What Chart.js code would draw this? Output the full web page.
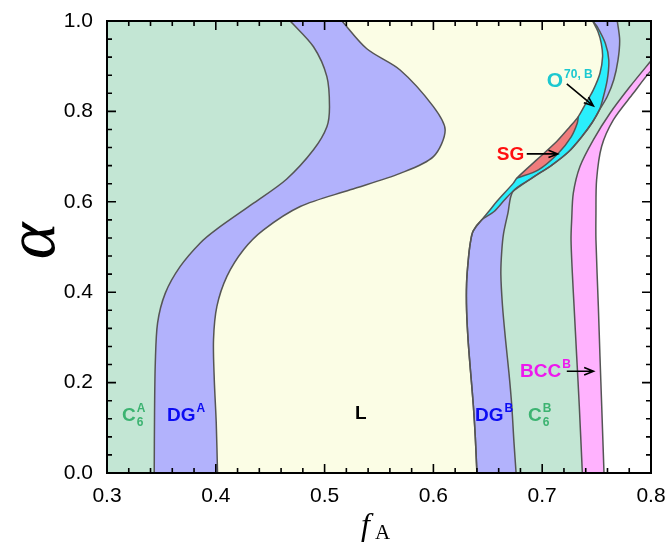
<!DOCTYPE html>
<html>
<head>
<meta charset="utf-8">
<script src="https://cdn.jsdelivr.net/npm/chart.js@4.4.1/dist/chart.umd.min.js"></script>
<style>
  html, body { margin: 0; padding: 0; background: #fff; }
  canvas { display: block; }
</style>
</head>
<body>
<canvas id="phase" width="667" height="543"></canvas>
<script>
// phase boundaries, points are [fA, alpha], alpha increasing
const c6aDga = [[0.3434, 0], [0.3437, 0.133], [0.3444, 0.2435], [0.3465, 0.332], [0.3536, 0.398],
  [0.3673, 0.457], [0.3857, 0.509], [0.400, 0.538], [0.4347, 0.597], [0.465, 0.65], [0.4898, 0.715],
  [0.5021, 0.766], [0.5045, 0.81], [0.5021, 0.877], [0.4898, 0.943], [0.4684, 1.0]];
const dgaL = [[0.4016, 0], [0.4004, 0.111], [0.3986, 0.2066], [0.3979, 0.295], [0.401, 0.3686],
  [0.4102, 0.435], [0.4255, 0.494], [0.4439, 0.538], [0.4776, 0.5896], [0.5235, 0.6265], [0.5694, 0.663],
  [0.600, 0.700], [0.6108, 0.759], [0.600, 0.8106], [0.5694, 0.8917], [0.5388, 0.9385], [0.5159, 1.0]];

// right-hand side, pieces joined below
const lDgb = [[0.640, 0], [0.6385, 0.08], [0.6367, 0.15], [0.6343, 0.22], [0.632, 0.29], [0.6305, 0.36],
  [0.6305, 0.42], [0.632, 0.47], [0.634, 0.51], [0.6365, 0.535], [0.6444, 0.56]];
const lO70Low = [[0.6444, 0.56], [0.651, 0.579], [0.6582, 0.6007], [0.6735, 0.6413], [0.6766, 0.6523]];
const lSg = [[0.6766, 0.6523], [0.6949, 0.6928], [0.7133, 0.7333], [0.7256, 0.7665], [0.7332, 0.7886]];
const lO70Up = [[0.7332, 0.7886], [0.7393, 0.8144], [0.747, 0.8475], [0.7531, 0.8843], [0.7555, 0.9212],
  [0.7543, 0.9506], [0.7513, 0.9764], [0.7464, 1.0]];
const o70DgbLow = [[0.6444, 0.56], [0.6555, 0.578], [0.6655, 0.6044], [0.673, 0.6228]];
const o70C6 = [[0.673, 0.6228], [0.6905, 0.6523], [0.7092, 0.6818], [0.7245, 0.7112], [0.7365, 0.7444],
  [0.7455, 0.7738], [0.7526, 0.8033]];
const o70DgbUp = [[0.7526, 0.8033], [0.7555, 0.8254], [0.7598, 0.8696], [0.7612, 0.9138], [0.758, 0.9506],
  [0.7505, 0.9875], [0.7464, 1.0]];
const sgO70 = [[0.6766, 0.6523], [0.6965, 0.6707], [0.7148, 0.7075], [0.7268, 0.7444], [0.7322, 0.7738],
  [0.7332, 0.7886]];
const dgbC6Low = [[0.676, 0], [0.674, 0.07], [0.672, 0.15], [0.6695, 0.22], [0.6665, 0.29], [0.6635, 0.37],
  [0.662, 0.44], [0.6628, 0.49], [0.6645, 0.53], [0.6685, 0.575], [0.673, 0.6228]];
const dgbC6Up = [[0.7526, 0.8033], [0.7598, 0.833], [0.7658, 0.87], [0.7697, 0.914], [0.7712, 0.958],
  [0.769, 1.0]];
const c6Bcc = [[0.7369, 0], [0.7341, 0.1476], [0.7317, 0.258], [0.7293, 0.3686], [0.7277, 0.4424],
  [0.7265, 0.516], [0.7271, 0.5602], [0.7286, 0.6192], [0.7347, 0.6781], [0.747, 0.737], [0.7623, 0.7959],
  [0.7807, 0.8549], [0.8, 0.912], [0.83, 1.0]];
const bccOut = [[0.7568, 0], [0.7547, 0.1476], [0.7531, 0.258], [0.7516, 0.3686], [0.7494, 0.516],
  [0.7494, 0.575], [0.75, 0.6486], [0.7546, 0.7223], [0.7654, 0.7812], [0.7837, 0.84], [0.8, 0.89],
  [0.845, 1.0]];

const fARange = [0.3, 0.8];
const alphaRange = [0, 1];

// phase names: anchor is [fA, alpha] of the left baseline
const phaseLabels = [
  { at: [0.3138, 0.114], text: 'C', sub: '6', sup: 'A', color: '#3cb371' },
  { at: [0.3551, 0.114], text: 'DG', sup: 'A', color: '#0c0cf2' },
  { at: [0.528, 0.12], text: 'L', color: '#000' },
  { at: [0.6383, 0.116], text: 'DG', sup: 'B', color: '#0c0cf2' },
  { at: [0.687, 0.116], text: 'C', sub: '6', sup: 'B', color: '#3cb371' },
  { at: [0.6797, 0.2133], text: 'BCC', sup: 'B', color: '#ee18ee' },
  { at: [0.6583, 0.6928], text: 'SG', color: '#ff1010' },
  { at: [0.7042, 0.8548], text: 'O', sup: '70, B', color: '#1cc8d0', size: 21 }
];
const arrows = [
  [[0.7226, 0.225], [0.7471, 0.225]],
  [[0.6858, 0.706], [0.7143, 0.706]],
  [[0.7226, 0.8608], [0.747, 0.8122]]
];

const join = (...parts) => parts.reduce((acc, p, i) => acc.concat(i ? p.slice(1) : p), []);
const lRight = join(lDgb, lO70Low, lSg, lO70Up);
const o70Right = join(lDgb, o70DgbLow, o70C6, o70DgbUp);
const c6bLeft = join(dgbC6Low, o70C6, dgbC6Up);

const GREEN = '#c3e6d4', PURPLE = '#b2b2fc', YELLOW = '#fbfde5', CYAN = '#2aeefc',
  RED = '#f07c7c', PINK = '#ffb2fe';
const SANS = '"Liberation Sans", Arial, sans-serif';
const SERIF = '"Liberation Serif", "Times New Roman", serif';

function boundary(pts, fill, color, order) {
  return {
    data: pts.map(([f, a]) => ({ x: f, y: a })),
    borderColor: '#555',
    borderWidth: 1.5,
    pointRadius: 0,
    tension: 0.3,
    capBezierPoints: false,
    fill: fill,
    backgroundColor: color,
    order: order === undefined ? 1 : order
  };
}

// keep the plot box fixed regardless of label overhang
function noOverhang(s) {
  s.paddingTop = 0; s.paddingBottom = 0; s.paddingLeft = 0; s.paddingRight = 0;
}

// inward ticks on all four sides plus the frame
const frameTicks = {
  id: 'frameTicks',
  afterDatasetsDraw(chart) {
    const { ctx, chartArea: a, scales: { x, y } } = chart;
    ctx.save();
    ctx.strokeStyle = '#000';
    ctx.lineWidth = 1.6;
    ctx.beginPath();
    for (let i = 0; i <= 25; i++) {
      const px = x.getPixelForValue(fARange[0] + i * 0.02);
      const len = i % 5 === 0 ? 9 : 5;
      ctx.moveTo(px, a.bottom); ctx.lineTo(px, a.bottom - len);
      ctx.moveTo(px, a.top); ctx.lineTo(px, a.top + len);
    }
    for (let i = 0; i <= 25; i++) {
      const py = y.getPixelForValue(alphaRange[0] + i * 0.04);
      const len = i % 5 === 0 ? 9 : 5;
      ctx.moveTo(a.left, py); ctx.lineTo(a.left + len, py);
      ctx.moveTo(a.right, py); ctx.lineTo(a.right - len, py);
    }
    ctx.stroke();
    ctx.lineWidth = 2;
    ctx.strokeRect(a.left, a.top, a.right - a.left, a.bottom - a.top);
    ctx.restore();
  }
};

// phase names, arrows and axis titles
const annotations = {
  id: 'annotations',
  afterDraw(chart) {
    const { ctx, chartArea: a, scales: { x, y } } = chart;
    ctx.save();
    ctx.textAlign = 'left';
    ctx.textBaseline = 'alphabetic';
    phaseLabels.forEach(lab => {
      const px = x.getPixelForValue(lab.at[0]);
      const py = y.getPixelForValue(lab.at[1]);
      ctx.fillStyle = lab.color;
      ctx.font = `bold ${lab.size || 19}px ${SANS}`;
      ctx.fillText(lab.text, px, py);
      const w = ctx.measureText(lab.text).width;
      ctx.font = `bold 12px ${SANS}`;
      if (lab.sup) ctx.fillText(lab.sup, px + w + 1, py - 9);
      if (lab.sub) ctx.fillText(lab.sub, px + w + 1, py + 5);
    });

    ctx.strokeStyle = '#000';
    ctx.lineWidth = 1.6;
    arrows.forEach(([p0, p1]) => {
      const x0 = x.getPixelForValue(p0[0]), y0 = y.getPixelForValue(p0[1]);
      const x1 = x.getPixelForValue(p1[0]), y1 = y.getPixelForValue(p1[1]);
      const ang = Math.atan2(y1 - y0, x1 - x0);
      ctx.beginPath();
      ctx.moveTo(x0, y0); ctx.lineTo(x1, y1);
      ctx.moveTo(x1 - 10 * Math.cos(ang - 0.38), y1 - 10 * Math.sin(ang - 0.38));
      ctx.lineTo(x1, y1);
      ctx.lineTo(x1 - 10 * Math.cos(ang + 0.38), y1 - 10 * Math.sin(ang + 0.38));
      ctx.stroke();
    });

    // x title: italic f with upright subscript A
    ctx.fillStyle = '#000';
    const cx = (a.left + a.right) / 2;
    ctx.font = `italic 32px ${SERIF}`;
    ctx.fillText('f', cx - 18, a.bottom + 62);
    ctx.font = `21px ${SERIF}`;
    ctx.fillText('A', cx - 4, a.bottom + 66);

    // y title
    ctx.translate(a.left - 71, (a.top + a.bottom) / 2 - 6);
    ctx.rotate(-Math.PI / 2);
    ctx.textAlign = 'center';
    ctx.textBaseline = 'middle';
    ctx.font = `italic 70px ${SERIF}`;
    ctx.fillText('\u03b1', 0, 0);
    ctx.restore();
  }
};

new Chart(document.getElementById('phase'), {
  type: 'line',
  data: {
    datasets: [
      boundary(c6aDga, { value: fARange[0] }, GREEN),
      boundary(dgaL, 0, PURPLE),
      boundary(lRight, 1, YELLOW),
      boundary(o70Right, 2, CYAN),
      boundary(c6bLeft, 3, PURPLE),
      boundary(c6Bcc, 4, GREEN),
      boundary(bccOut, 5, PINK),
      boundary(sgO70, 2, RED, 0)
    ]
  },
  options: {
    indexAxis: 'y',
    responsive: false,
    animation: false,
    events: [],
    layout: { padding: { top: 21, right: 16, left: 0, bottom: 0 } },
    plugins: {
      legend: { display: false },
      tooltip: { enabled: false },
      filler: { drawTime: 'beforeDatasetsDraw' }
    },
    scales: {
      x: {
        type: 'linear',
        position: 'bottom',
        min: fARange[0],
        max: fARange[1],
        grid: { display: false, drawTicks: false },
        border: { display: false },
        ticks: {
          stepSize: 0.1,
          autoSkip: false,
          maxRotation: 0,
          padding: 11,
          color: '#000',
          font: { family: SANS, size: 21 },
          callback: v => Number(v).toFixed(1)
        },
        afterFit: s => { s.height = 70; noOverhang(s); }
      },
      y: {
        type: 'linear',
        position: 'left',
        min: alphaRange[0],
        max: alphaRange[1],
        grid: { display: false, drawTicks: false },
        border: { display: false },
        ticks: {
          stepSize: 0.2,
          padding: 14,
          color: '#000',
          font: { family: SANS, size: 21 },
          callback: v => Number(v).toFixed(1)
        },
        afterFit: s => { s.width = 107; noOverhang(s); }
      }
    }
  },
  plugins: [frameTicks, annotations]
});
</script>
</body>
</html>
